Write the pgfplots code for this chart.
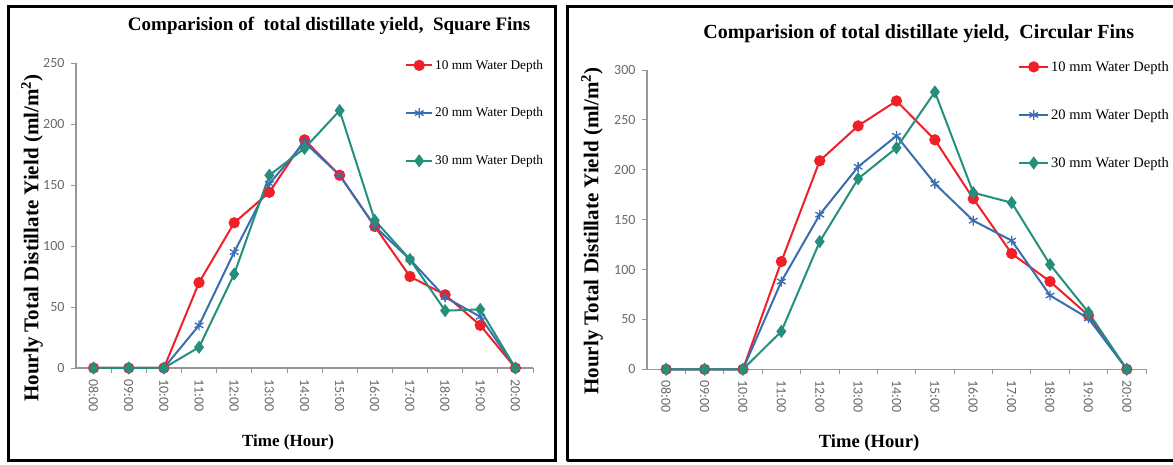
\documentclass[border=0pt]{standalone}
\usepackage{fontspec}
\setmainfont{Liberation Serif}
\newfontfamily\carlito{Carlito}
\usepackage{pgfplots}
\pgfplotsset{compat=1.18}

\definecolor{dRed}{RGB}{240,32,40}
\definecolor{dBlue}{RGB}{58,110,178}
\definecolor{dTeal}{RGB}{36,144,124}
\definecolor{axGray}{RGB}{150,150,150}
\definecolor{tkGray}{RGB}{105,105,105}

\newcommand{\fs}[1]{\fontsize{#1}{#1}\selectfont}

% hourly yield, square fins (ml/m^2)
\pgfplotstableread{
h  d10  d20  d30
0  0    0    0
1  0    0    0
2  0    0    0
3  70   35   17
4  119  95   77
5  144  151  158
6  187  185  180
7  158  158  211
8  116  116  121
9  75   89   89
10 60   58   47
11 35   42   48
12 0    0    0
}\square

% hourly yield, circular fins (ml/m^2)
\pgfplotstableread{
h  d10  d20  d30
0  0    0    0
1  0    0    0
2  0    0    0
3  108  88   38
4  209  155  128
5  244  203  191
6  269  234  222
7  230  186  278
8  171  149  177
9  116  129  167
10 88   74   105
11 54   51   57
12 0    0    0
}\circular

\pgfplotsset{
  finchart/.style={
    scale only axis,
    axis lines=left,
    axis line style={-, draw=axGray, line width=1.2pt},
    xmin=-0.5, xmax=12.5, ymin=0,
    xtick={0,...,12},
    xticklabels={08:00,09:00,10:00,11:00,12:00,13:00,14:00,15:00,16:00,17:00,18:00,19:00,20:00},
    major x tick style={draw=none},
    minor xtick={0.5,1.5,...,12.5},
    minor x tick style={draw=axGray, line width=0.8pt},
    minor tick length=5pt,
    major tick length=5pt,
    ytick style={draw=axGray, line width=0.8pt},
    tick align=outside,
    /pgf/number format/assume math mode=true,
    tick label style={font=\carlito\fs{14}, text=tkGray},
    xticklabel style={rotate=-90, anchor=west, inner xsep=6pt},
    yticklabel style={xshift=-3pt},
    clip=false,
    every axis plot/.append style={line width=2pt},
    legend cell align=left,
    legend style={draw=none, fill=none, inner sep=0pt},
    xlabel style={font=\bfseries\fs{17}},
    ylabel style={font=\bfseries\fs{21}},
    title style={font=\bfseries\fs{19}},
  },
  s10/.style={dRed, mark=*, mark size=4.6pt, mark options={solid, fill=dRed}},
  s20/.style={dBlue, mark=asterisk, mark size=5pt, mark options={solid, line width=1.3pt}},
  s30/.style={dTeal, mark=diamond*, mark size=5pt, mark options={solid, fill=dTeal}},
}

\begin{document}
\begin{tikzpicture}
\path[use as bounding box] (0pt,0pt) rectangle (1173pt,465pt);

% panel frames
\draw[line width=3pt] (8pt,4pt) rectangle (555pt,458pt);
\draw[line width=3pt] (567pt,4pt) -- (567pt,458pt) -- (1185pt,458pt);
\draw[line width=3pt] (567pt,4pt) -- (1185pt,4pt);

% square fins
\begin{axis}[finchart,
  at={(76pt,97pt)}, anchor=south west,
  width=457pt, height=305pt,
  ymax=250, ytick={0,50,...,250},
  title={Comparision of \ total distillate yield, \ Square Fins},
  title style={at={(axis description cs:0.554,1.102)}, anchor=center},
  xlabel={Time (Hour)},
  xlabel style={at={(axis description cs:0.464,-0.243)}, anchor=center},
  ylabel={Hourly Total Distillate Yield (ml/m\textsuperscript{2})},
  ylabel style={at={(axis description cs:-0.096,0.426)}, anchor=center, rotate=0},
  legend style={at={(axis description cs:0.72,1.017)}, anchor=north west, font=\fs{13.3}, row sep=33pt},
  legend image code/.code={\draw[mark repeat=2,mark phase=2] plot coordinates {(0pt,0pt) (13pt,0pt) (26pt,0pt)};},
]
\addplot[s10] table[x=h, y=d10] {\square};
\addplot[s20] table[x=h, y=d20] {\square};
\addplot[s30] table[x=h, y=d30] {\square};
\legend{10 mm Water Depth, 20 mm Water Depth, 30 mm Water Depth}
\end{axis}

% circular fins
\begin{axis}[finchart,
  at={(647pt,95.7pt)}, anchor=south west,
  width=499pt, height=299.3pt,
  ymax=300, ytick={0,50,...,300},
  title={Comparision of total distillate yield, \ Circular Fins},
  title style={at={(axis description cs:0.5445,1.1)}, anchor=center, font=\bfseries\fs{20}},
  xlabel={Time (Hour)},
  xlabel style={at={(axis description cs:0.445,-0.246)}, anchor=center, font=\bfseries\fs{18.6}},
  ylabel={Hourly Total Distillate Yield (ml/m\textsuperscript{2})},
  ylabel style={at={(axis description cs:-0.110,0.462)}, anchor=center},
  legend style={at={(axis description cs:0.7435,1.037)}, anchor=north west, font=\fs{14.5}, row sep=32.5pt},
  legend image code/.code={\draw[mark repeat=2,mark phase=2] plot coordinates {(0pt,0pt) (14.5pt,0pt) (29pt,0pt)};},
]
\addplot[s10] table[x=h, y=d10] {\circular};
\addplot[s20] table[x=h, y=d20] {\circular};
\addplot[s30] table[x=h, y=d30] {\circular};
\legend{10 mm Water Depth, 20 mm Water Depth, 30 mm Water Depth}
\end{axis}
\end{tikzpicture}
\end{document}
